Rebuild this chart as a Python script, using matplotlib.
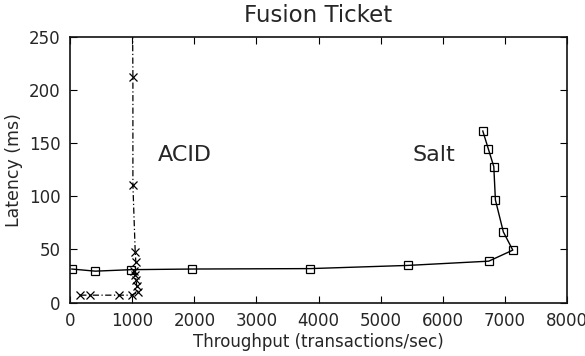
import matplotlib
matplotlib.use("Agg")
import matplotlib.pyplot as plt

# Salt series (throughput tx/sec, latency ms)
salt_tput = [27, 403, 982, 1960, 3865, 5438, 6742, 7129, 6977, 6849, 6823, 6736, 6646]
salt_lat = [31.6, 29.6, 31, 31.6, 32, 35, 39, 49.4, 66.5, 96.6, 128, 144.5, 161.5]

# ACID series
acid_tput = [161, 311, 794, 990, 1090, 1070, 1063, 1040, 1020, 1057, 1047, 1010, 1010, 990]
acid_lat = [7, 7, 7, 7, 10, 16, 21, 26, 30, 38, 48, 111, 212, 400]

xticks = [0, 1000, 2000, 3000, 4000, 5000, 6000, 7000, 8000]
yticks = [0, 50, 100, 150, 200, 250]

txt = "#262626"

fig = plt.figure(figsize=(5.85, 3.56), dpi=100)
ax = fig.add_axes([0.12, 0.15, 0.849, 0.746])

ax.plot(salt_tput, salt_lat, color="black", linewidth=1.0, marker="s",
        markersize=5.2, markerfacecolor="none", markeredgecolor="black",
        markeredgewidth=0.9)
ax.plot(acid_tput, acid_lat, color="black", linewidth=0.9,
        linestyle=(0, (5, 2, 1, 2)), marker="x", markersize=5.5,
        markeredgewidth=0.9)

ax.text(1850, 139, "ACID", fontsize=16, ha="center", va="center", color=txt)
ax.text(5850, 139, "Salt", fontsize=16, ha="center", va="center", color=txt)

ax.set_xlim(0, 8000)
ax.set_ylim(0, 250)
ax.set_xticks(xticks)
ax.set_yticks(yticks)
ax.tick_params(direction="in", top=True, right=True, labelsize=12,
               length=5, width=0.8, pad=7, labelcolor=txt)
for s in ax.spines.values():
    s.set_linewidth(1.2)
    s.set_color("#111111")

ax.set_xlabel("Throughput (transactions/sec)", fontsize=12, labelpad=2, color=txt)
ax.set_ylabel("Latency (ms)", fontsize=12.5, labelpad=4, color=txt)
ax.set_title("Fusion Ticket", fontsize=16.5, pad=11, color=txt)

fig.savefig("out.png", dpi=100)
